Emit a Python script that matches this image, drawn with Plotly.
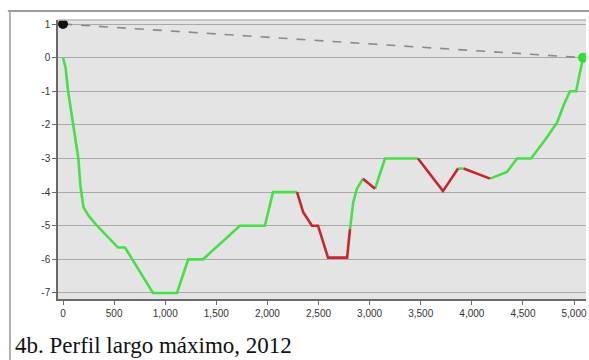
import plotly.graph_objects as go

# Longitudinal profile: distance along channel (m) and relative elevation (m)
dist = [0, 25, 50, 100, 150, 170, 200, 250, 333, 538, 607, 880, 1115, 1225,
        1370, 1730, 1975, 2055, 2290, 2350, 2436, 2495, 2593, 2780, 2808,
        2840, 2876, 2935, 3053, 3150, 3473, 3718, 3865, 3920, 4178, 4344,
        4442, 4579, 4716, 4834, 4900, 4960, 5020, 5088]
elev = [0, -0.3, -1, -2, -3, -3.8, -4.45, -4.7, -5.0, -5.65, -5.65, -7, -7,
        -6, -6, -5, -5, -4, -4, -4.6, -5.0, -5.0, -5.95, -5.95, -5.1, -4.3,
        -3.9, -3.6, -3.9, -3.0, -3.0, -3.97, -3.3, -3.3, -3.6, -3.4, -3.0,
        -3.0, -2.45, -1.93, -1.4, -1.0, -1.0, 0]

# Stretches of the profile drawn in red (start, end distance)
red_spans = [(2290, 2808), (2935, 3053), (3473, 3865), (3920, 4178)]

# Straight reference line between start and end points
ref_x = [0, 5088]
ref_y = [1, 0]

x_ticks = [0, 500, 1000, 1500, 2000, 2500, 3000, 3500, 4000, 4500, 5000]
x_labels = ["0", "500", "1,000", "1,500", "2,000", "2,500", "3,000",
            "3,500", "4,000", "4,500", "5,000"]
y_ticks = [1, 0, -1, -2, -3, -4, -5, -6, -7]
y_labels = ["1", "0", "-1", "-2", "-3", "-4", "-5", "-6", "-7"]

caption = "4b. Perfil largo máximo, 2012"


def in_red(a, b):
    return any(s <= a and b <= e for s, e in red_spans)


gx, gy, rx, ry = [], [], [], []
for i in range(len(dist) - 1):
    a, b = dist[i], dist[i + 1]
    tx, ty = (rx, ry) if in_red(a, b) else (gx, gy)
    if tx and tx[-1] is not None and tx[-1] != a:
        tx.append(None)
        ty.append(None)
    if not tx or tx[-1] != a:
        tx.append(a)
        ty.append(elev[i])
    tx.append(b)
    ty.append(elev[i + 1])

fig = go.Figure()
fig.add_trace(go.Scatter(x=ref_x, y=ref_y, mode="lines",
                         line=dict(color="#8a8a8a", width=1.6, dash="dash"),
                         hoverinfo="skip"))
fig.add_trace(go.Scatter(x=gx, y=gy, mode="lines",
                         line=dict(color="#45e045", width=2.6),
                         connectgaps=False))
fig.add_trace(go.Scatter(x=rx, y=ry, mode="lines",
                         line=dict(color="#c8262a", width=2.6),
                         connectgaps=False))
fig.add_trace(go.Scatter(x=[ref_x[0]], y=[ref_y[0]], mode="markers",
                         marker=dict(color="#111111", size=10)))
fig.add_trace(go.Scatter(x=[ref_x[1]], y=[ref_y[1]], mode="markers",
                         marker=dict(color="#33dd33", size=10)))

fig.update_layout(
    width=589, height=360,
    margin=dict(l=58, r=3, t=20, b=61),
    paper_bgcolor="white",
    plot_bgcolor="#e4e4e4",
    showlegend=False,
    font=dict(family="Liberation Sans, Arial", size=10, color="#333333"),
    xaxis=dict(range=[-49, 5117], tickvals=x_ticks, ticktext=x_labels,
               showgrid=False, zeroline=False, showline=True,
               linecolor="#6a6a6a", linewidth=1.5, ticks="outside",
               ticklen=4, tickcolor="#6a6a6a", mirror=False),
    yaxis=dict(range=[-7.18, 1.12], tickvals=y_ticks, ticktext=y_labels,
               showgrid=True, gridcolor="#a9a9a9", gridwidth=1.2,
               zeroline=False, showline=True, linecolor="#6a6a6a",
               linewidth=1.5, ticks="outside", ticklen=4,
               tickcolor="#6a6a6a"),
    shapes=[
        dict(type="line", xref="paper", yref="paper", x0=-0.095, x1=1.01,
             y0=1.032, y1=1.032, line=dict(color="#9a9a9a", width=2)),
        dict(type="line", xref="paper", yref="paper", x0=-0.091, x1=-0.091,
             y0=1.032, y1=-0.25, line=dict(color="#b0b0b0", width=2)),
        dict(type="line", xref="paper", yref="paper", x0=0, x1=1,
             y0=1, y1=1, line=dict(color="#b8b8b8", width=1.5)),
    ],
    annotations=[
        dict(text=caption, xref="paper", yref="paper", x=-0.085, y=-0.218,
             xanchor="left", yanchor="bottom", showarrow=False,
             font=dict(family="Liberation Serif", size=23,
                       color="#111111")),
    ],
)

fig.write_html("out.html")
